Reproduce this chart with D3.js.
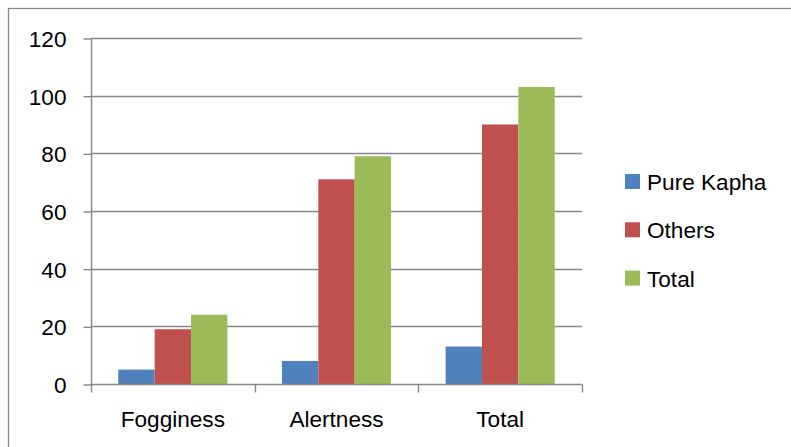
<!DOCTYPE html>
<html><head><meta charset="utf-8">
<script src="https://cdn.jsdelivr.net/npm/d3@7"></script>
<style>html,body{margin:0;padding:0;background:#fff;}svg{display:block;}</style>
</head><body>
<script>
const categories = ["Fogginess", "Alertness", "Total"];
const seriesNames = ["Pure Kapha", "Others", "Total"];
const pureKapha = [5, 8, 13];
const others = [19, 71, 90];
const total = [24, 79, 103];
const yTicks = [0, 20, 40, 60, 80, 100, 120];
const colors = ["#4F81BD", "#C0504D", "#9BBB59"];

const seriesValues = [pureKapha, others, total];
const W = 791, H = 447;
const font = "'Liberation Sans', Arial, sans-serif";
const fs = 22.6;
const gridColor = "#878787";

const svg = d3.select("body").append("svg").attr("width", W).attr("height", H);

// outer border
svg.append("rect").attr("x", 8.5).attr("y", 8.5).attr("width", 900).attr("height", 600)
  .attr("fill", "none").attr("stroke", gridColor).attr("stroke-width", 1.3);

const plot = {left: 91, right: 582, top: 38, bottom: 384};
const y = d3.scaleLinear().domain([0, 120]).range([plot.bottom, plot.top]);
const x0 = d3.scaleBand().domain(categories).range([plot.left, plot.right]).padding(0);
const x1 = d3.scaleBand().domain(seriesNames).range([0, x0.bandwidth()]).paddingInner(0).paddingOuter(0.75);

// gridlines
svg.append("g").selectAll("line").data(yTicks.filter(d => d > 0)).join("line")
  .attr("x1", plot.left).attr("x2", plot.right)
  .attr("y1", d => Math.round(y(d)) + 0.5).attr("y2", d => Math.round(y(d)) + 0.5)
  .attr("stroke", gridColor).attr("stroke-width", 1.4);

// bars
const data = [];
categories.forEach((c, i) => seriesNames.forEach((s, j) => data.push({c, s, v: seriesValues[j][i], j})));
svg.append("g").selectAll("rect").data(data).join("rect")
  .attr("x", d => x0(d.c) + x1(d.s))
  .attr("width", x1.bandwidth())
  .attr("y", d => y(d.v))
  .attr("height", d => y(0) - y(d.v))
  .attr("fill", d => colors[d.j]);

// y axis
const yAxis = d3.axisLeft(y).tickValues(yTicks).tickSize(8).tickPadding(17).tickFormat(d3.format("d"));
const gy = svg.append("g").attr("transform", `translate(${plot.left + 0.5},0.5)`).call(yAxis);
gy.select(".domain").attr("stroke", gridColor).attr("stroke-width", 1.4).attr("d", `M0,${plot.top}V${plot.bottom}`);
gy.selectAll(".tick line").attr("stroke", gridColor).attr("stroke-width", 1.4);
gy.selectAll(".tick text").attr("font-family", font).attr("font-size", fs).attr("fill", "#000").attr("dy", "0.36em");

// x axis
const xAxis = d3.axisBottom(x0).tickSize(0).tickPadding(0);
const gx = svg.append("g").attr("transform", `translate(0,${plot.bottom + 0.5})`).call(xAxis);
gx.select(".domain").attr("stroke", gridColor).attr("stroke-width", 1.4).attr("d", `M${plot.left},0H${plot.right}`);
gx.selectAll(".tick text").attr("font-family", font).attr("font-size", fs).attr("fill", "#000").attr("y", 42).attr("dy", 0);
// category boundary tick marks
const bounds = categories.map(c => x0(c)).concat([plot.right]);
gx.append("g").selectAll("line").data(bounds).join("line")
  .attr("x1", d => Math.round(d) + 0.5).attr("x2", d => Math.round(d) + 0.5)
  .attr("y1", 0).attr("y2", 8).attr("stroke", gridColor).attr("stroke-width", 1.4);

// legend
const lg = svg.append("g").attr("transform", "translate(625,174)");
const items = lg.selectAll("g").data(seriesNames).join("g").attr("transform", (d, i) => `translate(0,${i * 48.3})`);
items.append("rect").attr("width", 15).attr("height", 15).attr("fill", (d, i) => colors[i]);
items.append("text").attr("x", 22).attr("y", 16).attr("font-family", font).attr("font-size", fs).attr("fill", "#000").text(d => d);
</script>
</body></html>
